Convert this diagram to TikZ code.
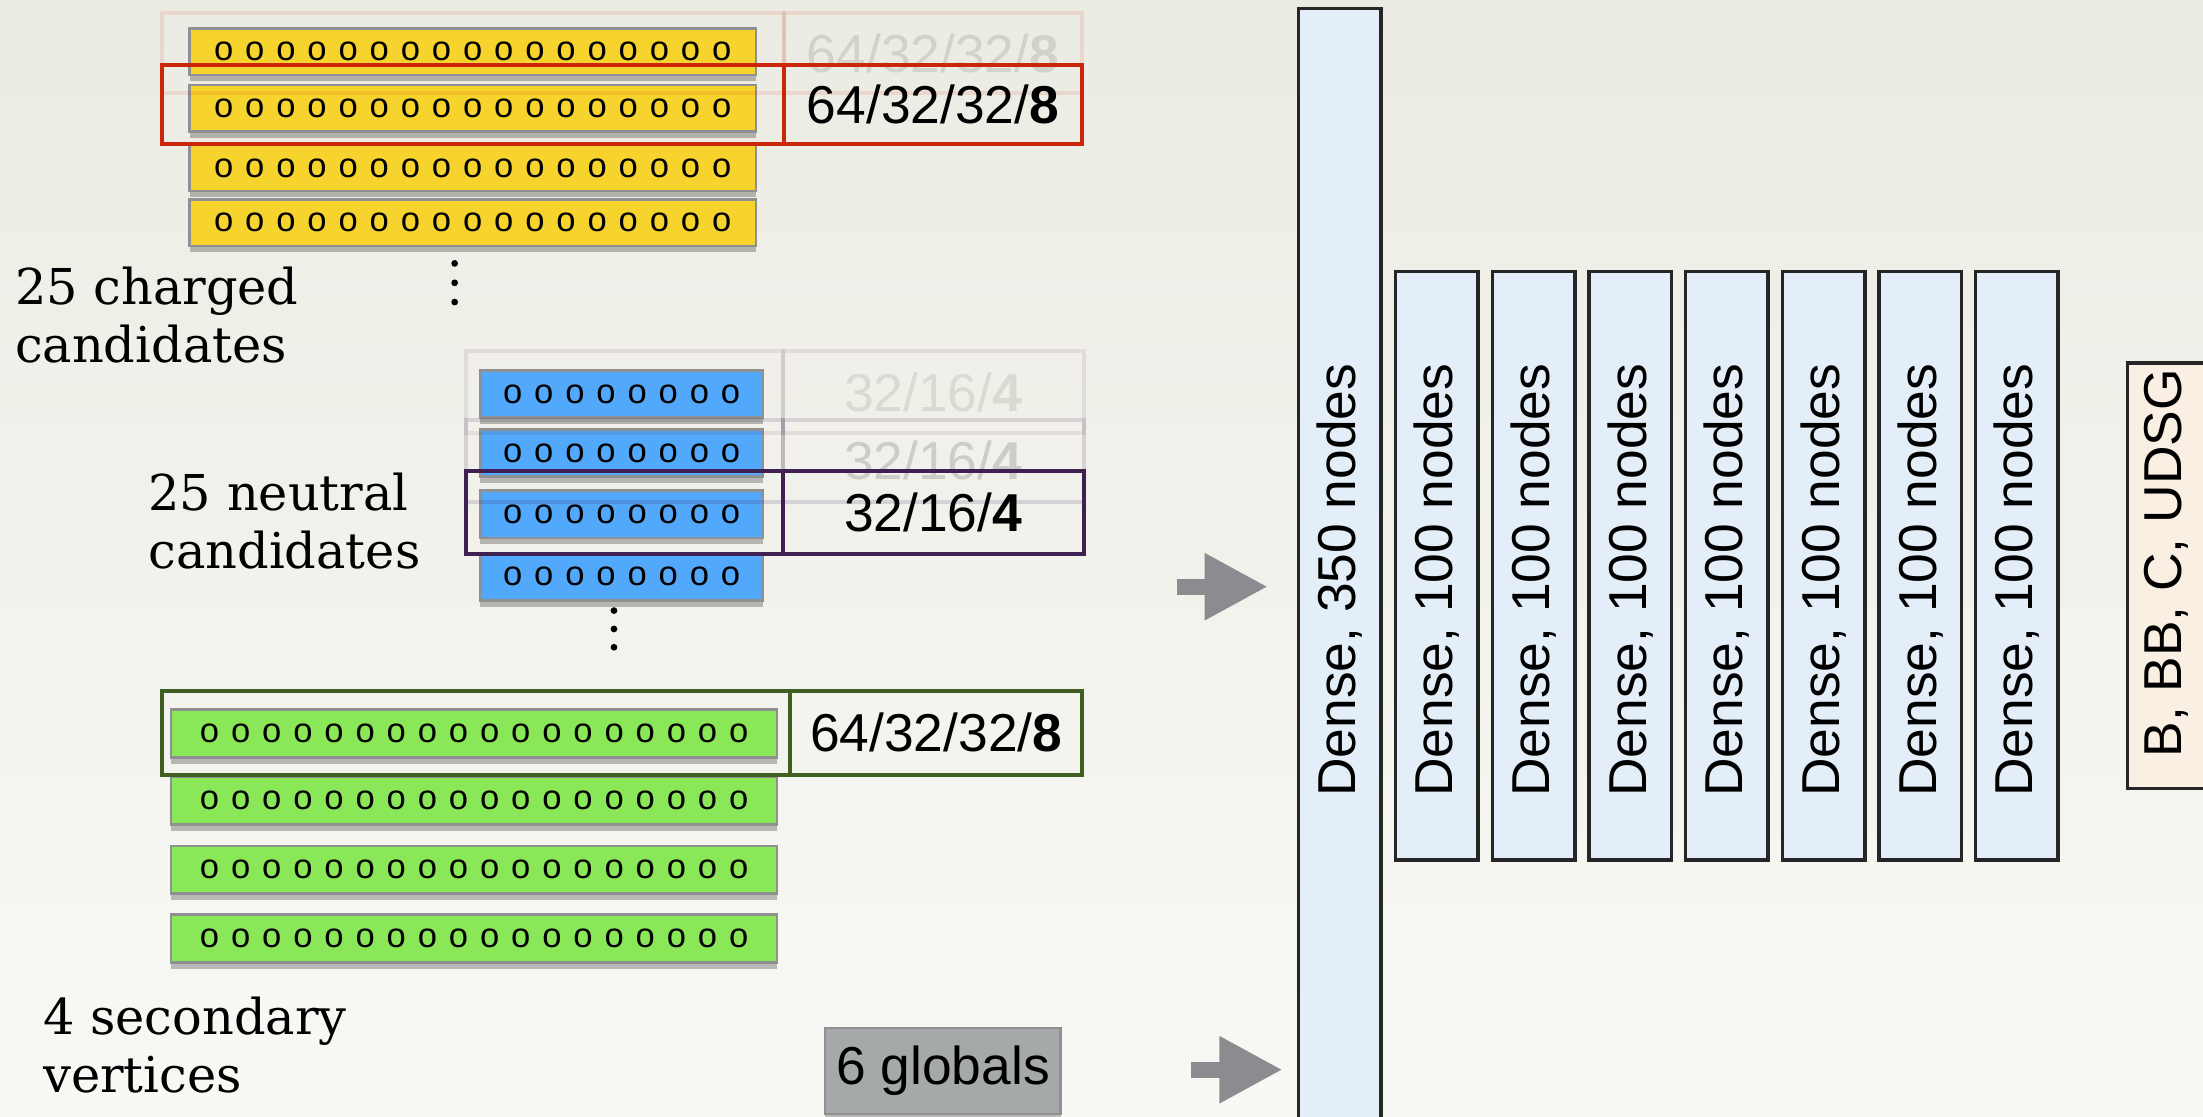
\documentclass[tikz,border=0pt]{standalone}
\usepackage{fontspec}
\setmainfont{Liberation Sans}
\newfontfamily\typefont{DejaVu Serif}
\usetikzlibrary{shadows,arrows.meta}

\definecolor{bgtop}{RGB}{236,235,227}
\definecolor{bgbot}{RGB}{248,248,245}
\definecolor{chyellow}{RGB}{246,211,45}
\definecolor{nublue}{RGB}{82,168,250}
\definecolor{svgreen}{RGB}{138,232,88}
\definecolor{barline}{RGB}{142,144,146}
\definecolor{redframe}{RGB}{204,38,10}
\definecolor{purpleframe}{RGB}{62,32,82}
\definecolor{greenframe}{RGB}{64,94,34}
\definecolor{densefill}{RGB}{227,238,248}
\definecolor{outfill}{RGB}{249,239,227}
\definecolor{globfill}{RGB}{166,169,169}
\definecolor{arrowgray}{RGB}{138,140,143}

\newcommand{\lblfont}{\fontsize{10.8}{13}\selectfont}
\newlength{\opitch}\setlength{\opitch}{6.3pt}
\newcommand{\orow}[1]{\foreach \k in {1,...,#1}{\makebox[\opitch]{o}}}

\begin{document}
\begin{tikzpicture}[x=0.01cm, y=-0.01cm,
  bar/.style={draw=barline, line width=0.5pt, inner sep=0pt,
    font=\fontsize{7}{8}\selectfont,
    drop shadow={shadow xshift=0pt, shadow yshift=-1.3pt, opacity=0.25, fill=black}},
  yellowbar/.style={bar, fill=chyellow, minimum width=4.03cm, minimum height=0.33cm},
  bluebar/.style={bar, fill=nublue, minimum width=2.01cm, minimum height=0.335cm},
  greenbar/.style={bar, fill=svgreen, minimum width=4.31cm, minimum height=0.34cm},
  frame/.style={line width=0.8pt, inner sep=0pt, outer sep=0pt, font=\lblfont},
  ghost/.style={opacity=0.11},
  typelbl/.style={font=\typefont\fontsize{10}{11.8}\selectfont, align=left,
    inner sep=0pt, anchor=north west},
  densebox/.style={draw=black!85, line width=0.7pt, fill=densefill, inner sep=0pt,
    minimum width=0.586cm, anchor=north west},
  fatarrow/.style={arrowgray, line width=0.115cm,
    -{Triangle[length=0.45cm, width=0.445cm]}}]

  % background
  \shade[top color=bgtop, bottom color=bgbot] (0,0) rectangle (1568,795);
  \useasboundingbox (0,0) rectangle (1568,795);
  \clip (0,0) rectangle (1568,795);

  % charged candidates
  \foreach \y [count=\i] in {36.8,77.1,119.5,158.5}
    \node[yellowbar] (ch\i) at (336.5,\y) {\orow{17}};
  \foreach \y in {187.5,201.3,215}
    \fill (323.6,\y) circle [radius=0.024cm];
  \node[typelbl] (chlbl) at (10,189) {25 charged\\candidates};

  \node[frame, ghost, draw=redframe, minimum width=4.425cm, minimum height=0.565cm,
    anchor=north west] (chghost) at (115,9.5) {};
  \node[frame, ghost, draw=redframe, minimum width=2.125cm, minimum height=0.565cm,
    anchor=west] (chghostdim) at (chghost.east) {64/32/32/\textbf{8}};
  \node[frame, draw=redframe, minimum width=4.425cm, minimum height=0.565cm,
    anchor=north west] (chsel) at (115,46) {};
  \node[frame, draw=redframe, minimum width=2.125cm, minimum height=0.565cm,
    anchor=west] (chdim) at (chsel.east) {64/32/32/\textbf{8}};

  % neutral candidates
  \foreach \y [count=\i] in {280.5,322.5,366,410.5}
    \node[bluebar] (nu\i) at (442.5,\y) {\orow{8}};
  \foreach \y in {434.6,447.7,460.7}
    \fill (437,\y) circle [radius=0.024cm];
  \node[typelbl] (nulbl) at (105,336) {25 neutral\\candidates};

  \foreach \y/\o [count=\i] in {250/0.09,299/0.15} {
    \node[frame, opacity=\o, draw=purpleframe, minimum width=2.25cm, minimum height=0.58cm,
      anchor=north west] (nughost\i) at (332,\y) {};
    \node[frame, opacity=\o, draw=purpleframe, minimum width=2.14cm, minimum height=0.58cm,
      anchor=west] (nughostdim\i) at (nughost\i.east) {32/16/\textbf{4}};
  }
  \node[frame, draw=purpleframe, minimum width=2.25cm, minimum height=0.59cm,
    anchor=north west] (nusel) at (332,335) {};
  \node[frame, draw=purpleframe, minimum width=2.14cm, minimum height=0.59cm,
    anchor=west] (nudim) at (nusel.east) {32/16/\textbf{4}};

  % secondary vertices
  \foreach \y [count=\i] in {522,570,619,668}
    \node[greenbar] (sv\i) at (337.5,\y) {\orow{18}};
  \node[typelbl] (svlbl) at (30,709) {4 secondary\\vertices};
  \node[frame, draw=greenframe, minimum width=4.47cm, minimum height=0.6cm,
    anchor=north west] (svsel) at (115,491.6) {};
  \node[frame, draw=greenframe, minimum width=2.08cm, minimum height=0.6cm,
    anchor=west] (svdim) at (svsel.east) {64/32/32/\textbf{8}};

  % globals
  \node[draw=barline, line width=0.5pt, fill=globfill, inner sep=0pt, font=\lblfont,
    minimum width=1.675cm, minimum height=0.61cm, anchor=north west,
    drop shadow={shadow xshift=0pt, shadow yshift=-1.3pt, opacity=0.25, fill=black}]
    (glob) at (586.5,731) {6 globals};

  % dense layers
  \node[densebox, minimum height=8.2cm] (d350) at (923,5) {};
  \node[rotate=90, font=\lblfont] (d350lbl) at (d350.center |- 0,413) {Dense, 350 nodes};
  \foreach \i in {1,...,7} {
    \node[densebox, minimum height=4.185cm] (d\i) at ({992.2+68.8*(\i-1)},192) {};
    \node[rotate=90, font=\lblfont] (d\i lbl) at (d\i.center |- 0,413) {Dense, 100 nodes};
  }

  % output
  \node[draw=black!85, line width=0.7pt, fill=outfill, inner sep=0pt,
    minimum width=0.58cm, minimum height=3.03cm, anchor=north west] (cls) at (1513,257) {};
  \node[rotate=90, font=\lblfont] (clslbl) at (1542,401) {B, BB, C, UDSG};

  % inputs
  \coordinate (in1) at (837.7,417.6);
  \coordinate (in2) at (848,761.4);
  \draw[fatarrow, shorten >=0.205cm] (in1) -- (in1 -| d350.west);
  \draw[fatarrow, shorten >=0.1cm] (in2) -- (in2 -| d350.west);
\end{tikzpicture}
\end{document}
